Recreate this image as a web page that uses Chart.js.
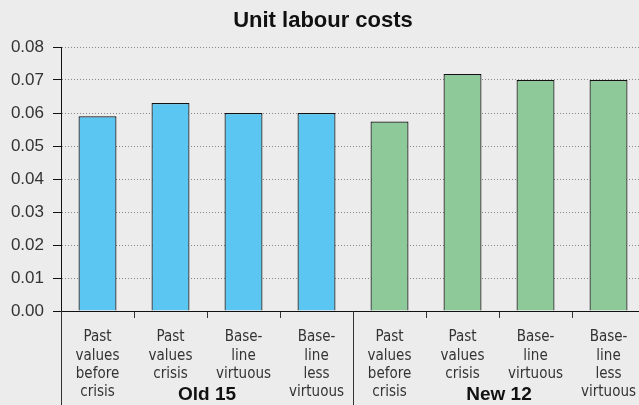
<!DOCTYPE html>
<html>
<head>
<meta charset="utf-8">
<script src="https://cdn.jsdelivr.net/npm/chart.js@4"></script>
<style>
  html, body { margin: 0; padding: 0; background: #ececec; overflow: hidden; }
  #wrap { width: 646px; height: 405px; }
</style>
</head>
<body>
<div id="wrap"><canvas id="ulcChart" width="646" height="405"></canvas></div>
<script>
// categories, two groups of four
const categories = [
    ["Past", "values", "before", "crisis"],
    ["Past", "values", "crisis"],
    ["Base-", "line", "virtuous"],
    ["Base-", "line", "less", "virtuous"],
    ["Past", "values", "before", "crisis"],
    ["Past", "values", "crisis"],
    ["Base-", "line", "virtuous"],
    ["Base-", "line", "less", "virtuous"],
];
const groups = ["Old 15", "New 12"];
const groupSize = 4;
const values = [0.059, 0.063, 0.060, 0.060, 0.0574, 0.0718, 0.070, 0.070];
const yTicks = [0.00, 0.01, 0.02, 0.03, 0.04, 0.05, 0.06, 0.07, 0.08];

const barColors = values.map((v, i) => (i < groupSize ? "#5bc6f2" : "#8ec99a"));

// group labels and separators under the x axis
const groupPlugin = {
    id: "groups",
    afterDraw(chart) {
        const ctx = chart.ctx;
        const x = chart.scales.x;
        const area = chart.chartArea;
        const step = x.getPixelForValue(1) - x.getPixelForValue(0);
        ctx.save();
        ctx.strokeStyle = "#333";
        ctx.lineWidth = 1;
        for (let g = 0; g < groups.length; g++) {
            const left = x.getPixelForValue(g * groupSize) - step / 2;
            ctx.beginPath();
            ctx.moveTo(Math.round(left) + 0.5, area.bottom);
            ctx.lineTo(Math.round(left) + 0.5, chart.height);
            ctx.stroke();
            const mid = left + (step * groupSize) / 2;
            ctx.fillStyle = "#111";
            ctx.font = "bold 19px 'Liberation Sans', Arial, sans-serif";
            ctx.textAlign = "center";
            ctx.textBaseline = "middle";
            ctx.fillText(groups[g], mid, 395);
        }
        ctx.restore();
    },
};

new Chart(document.getElementById("ulcChart"), {
    type: "bar",
    data: {
        labels: categories,
        datasets: [
            {
                data: values,
                backgroundColor: barColors,
                borderColor: "#111",
                borderWidth: 1.2,
                barPercentage: 0.52,
                categoryPercentage: 1,
            },
        ],
    },
    options: {
        responsive: false,
        animation: false,
        layout: { padding: { top: 0, right: 0, left: 0, bottom: 0 } },
        plugins: {
            legend: { display: false },
            tooltip: { enabled: false },
            title: {
                display: true,
                text: "Unit labour costs",
                color: "#111",
                font: { family: "'Liberation Sans', Arial, sans-serif", size: 22, weight: "bold" },
                padding: { top: 8, bottom: 12.6 },
            },
        },
        scales: {
            x: {
                grid: {
                    offset: true,
                    drawOnChartArea: false,
                    tickLength: 7,
                    color: "#333",
                },
                border: { color: "#111", width: 1 },
                ticks: {
                    color: "#333",
                    padding: 10,
                    maxRotation: 0,
                    autoSkip: false,
                    font: { family: "'DejaVu Sans Condensed', 'Liberation Sans', sans-serif", size: 15, lineHeight: 1.23 },
                },
                afterFit(scale) {
                    scale.height = 94;
                },
            },
            y: {
                min: 0,
                max: 0.08,
                afterBuildTicks(scale) {
                    scale.ticks = yTicks.map((v) => ({ value: v }));
                },
                grid: {
                    color: "#888",
                    tickColor: "#111",
                    tickLength: 8,
                    tickBorderDash: [],
                },
                border: { color: "#111", width: 1, dash: [1, 2] },
                ticks: {
                    color: "#333",
                    padding: 9,
                    font: { family: "'Liberation Sans', Arial, sans-serif", size: 17 },
                    callback: (v) => Number(v).toFixed(2),
                },
                afterFit(scale) {
                    scale.width = 61;
                },
            },
        },
    },
    plugins: [groupPlugin],
});
</script>
</body>
</html>
